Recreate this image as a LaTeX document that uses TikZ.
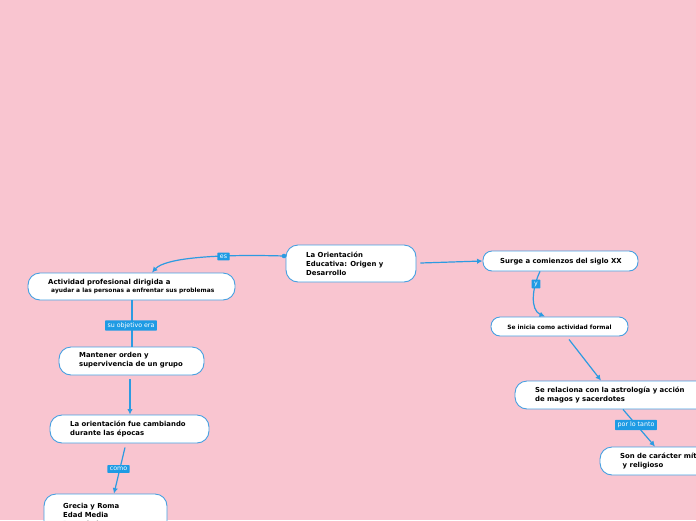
\documentclass[tikz,border=0pt]{standalone}
\usepackage{fontspec}
\setmainfont{DejaVu Sans}
\usetikzlibrary{arrows.meta,calc}
\definecolor{bg}{RGB}{249,197,208}
\definecolor{ln}{RGB}{45,155,225}
\definecolor{bd}{RGB}{70,160,225}
\definecolor{lab}{RGB}{30,155,228}
\begin{document}
\begin{tikzpicture}[x=1pt,y=-1pt,
 box/.style={draw=bd, line width=0.9pt, fill=white, rounded corners=12pt, inner sep=0pt},
 txt/.style={anchor=west, align=left, font=\bfseries\fontsize{6.9}{9}\selectfont, inner sep=0pt},
 stxt/.style={txt, font=\bfseries\fontsize{5.9}{8}\selectfont},
 lbl/.style={fill=lab, text=white, font=\fontsize{6.3}{7}\selectfont, inner xsep=2.5pt, inner ysep=2pt, rounded corners=0.6pt},
 con/.style={draw=ln, line width=1.2pt},
 arr/.style={con, -{Latex[length=5.5pt,width=5.5pt]}}]
\useasboundingbox (0,0) rectangle (696,520);
\fill[bg] (0,0) rectangle (696,520);
\clip (0,0) rectangle (696,520);

% boxes
\node[box, minimum width=130pt, minimum height=37pt] (c) at (351,263.5) {};
\node[box, minimum width=207pt, minimum height=27pt] (a) at (131.5,286.5) {};
\node[box, minimum width=145pt, minimum height=28pt] (m) at (131.5,361) {};
\node[box, minimum width=159pt, minimum height=28pt] (o) at (129.5,429) {};
\node[box, minimum width=123pt, minimum height=70pt] (g) at (105.5,529) {};
\node[box, minimum width=155pt, minimum height=20pt, rounded corners=9pt] (s) at (560.5,261) {};
\node[box, minimum width=137pt, minimum height=19pt, rounded corners=9pt] (i) at (559.5,326.5) {};
\node[box, minimum width=200pt, minimum height=28pt] (r) at (615,395) {};
\node[box, minimum width=160pt, minimum height=28pt] (n) at (680,461) {};

% texts
\node[txt] (ct) at (306,264) {La Orientación\\Educativa: Origen y\\Desarrollo};
\node[txt] (at1) at (48,282.5) {Actividad profesional dirigida a};
\node[stxt] (at2) at (51,291) {ayudar a las personas a enfrentar sus problemas};
\node[txt] (mt) at (79,360.5) {Mantener orden y\\supervivencia de un grupo};
\node[txt] (ot) at (70,429) {La orientación fue cambiando\\durante las épocas};
\node[txt, anchor=north west] (gt) at (63,503) {Grecia y Roma\\Edad Media\\Renacimiento};
\node[txt, anchor=center] (st) at (561,261.5) {Surge a comienzos del siglo XX};
\node[stxt, anchor=center] (it) at (559.5,327) {Se inicia como actividad formal};
\node[txt] (rt) at (535,395) {Se relaciona con la astrología y acción\\de magos y sacerdotes};
\node[txt] (nt) at (620,461) {Son de carácter mítico\\\hspace{2.5pt}y religioso};

% connectors
\coordinate (cl) at (284,256);
\fill[ln] (cl) circle (2.3pt);
\draw[arr] (cl) .. controls (215,254) and (165,258) .. ($(a.north)+(20.5,0)$);
\draw[arr] ($(c.east)+(4,-0.5)$) -- (s.west);
\draw[con] ($(a.south)+(0.5,0)$) -- ($(m.north)+(0.5,0)$);
\draw[arr] ($(m.south)+(-1.5,4)$) -- ($(o.north)+(0.5,0)$);
\draw[arr] ($(o.south)+(-4.5,4)$) -- ($(g.north)+(8.5,0)$);
\draw[arr] ($(s.south)+(-20.5,0)$) .. controls (532,288) and (530,310) .. ($(i.north)+(-14.5,0)$);
\draw[arr] ($(i.south)+(9.5,3)$) -- ($(r.north)+(-14,0)$);
\draw[arr] ($(r.south)+(8,0)$) -- ($(n.north)+(-25,0)$);

% connector labels
\node[lbl] (l1) at (223.5,256.5) {es};
\node[lbl] (l2) at (131,325.5) {su objetivo era};
\node[lbl] (l3) at (118.5,469) {como};
\node[lbl] (l4) at (536,284) {y};
\node[lbl] (l5) at (636,425) {por lo tanto};
\end{tikzpicture}
\end{document}
